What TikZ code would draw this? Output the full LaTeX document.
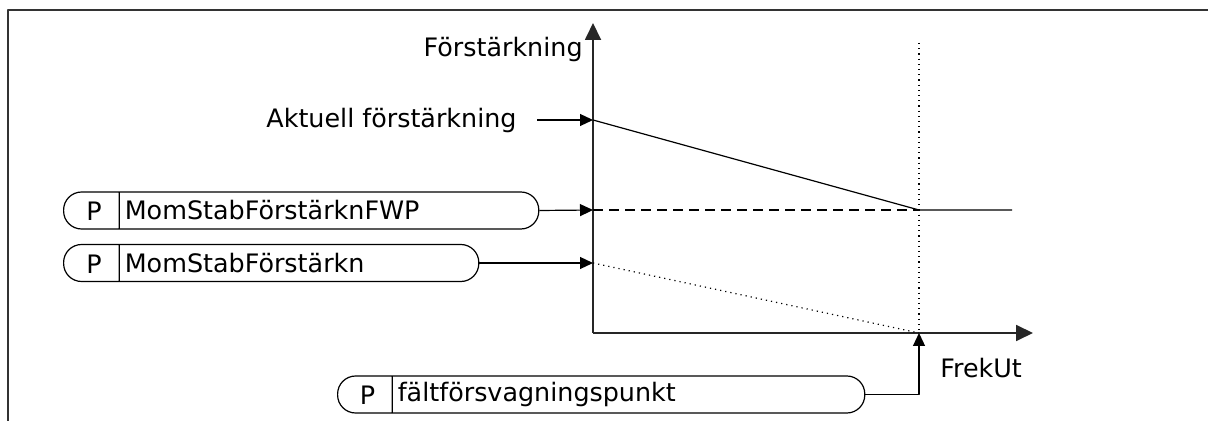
\documentclass[tikz,border=0pt]{standalone}
\usepackage{fontspec}
\setmainfont{DejaVu Sans}
\usetikzlibrary{arrows.meta,shapes.multipart}
\tikzset{
  every picture/.style={font=\fontsize{12.7}{15}\selectfont, line join=round, >=Stealth},
  frame/.style={draw=black!80, line width=1pt},
  axis/.style={draw=black!85, line width=0.9pt, -{Triangle[length=8.5pt,width=8pt]}},
  feed/.style={line width=0.6pt, -{Triangle[length=6.5pt,width=6pt]}},
  curve/.style={line width=0.6pt},
  param/.style={draw, line width=0.6pt, rectangle split, rectangle split horizontal,
    rectangle split parts=2, rounded corners=9pt, inner xsep=0pt, inner ysep=0pt},
}
\newcommand{\pcell}[1]{\makebox[#1][c]{\rule[-4pt]{0pt}{18.5pt}\hspace{3pt}P}}
\newcommand{\pname}[2]{\makebox[#1][l]{\hspace{2.5pt}#2}}

\begin{document}
\begin{tikzpicture}[x=0.5pt,y=-0.5pt]
\useasboundingbox (0,0) rectangle (1208,421);
% frame
\draw[frame] (8,421) -- (8,10) -- (1208,10);
% axes
\coordinate (O) at (593,333);
\coordinate (ytop) at (593,23);
\coordinate (xend) at (1033,333);
\draw[axis] (O) -- (ytop);
\draw[axis] (O) -- (xend);
\node[anchor=base east, inner sep=0pt] (ylab) at (583,57) {Förstärkning};
\node[anchor=base west, inner sep=0pt] (xlab) at (940,378) {FrekUt};
% points on the curves
\coordinate (gakt) at (593,120);
\coordinate (gfwp) at (593,210);
\coordinate (gmom) at (593,263);
\coordinate (knee) at (919,210);
\coordinate (kend) at (1012,210);
\coordinate (fwp0) at (919,333);
\coordinate (fwptop) at (919,43);
\draw[curve] (gakt) -- (knee) -- (kend);
\draw[curve, dash pattern=on 5pt off 3pt] (gfwp) -- (knee);
\draw[curve, dotted] (gmom) -- (fwp0);
\draw[curve, dotted] (fwptop) -- (fwp0);
% inputs
\node[anchor=base east, inner sep=0pt] (akt) at (517,128) {Aktuell förstärkning};
\draw[feed] ([xshift=10pt]akt.east |- gakt) -- (gakt);
\node[param, anchor=west] (fwp) at (63,210.5)
  {\pcell{27.5pt}\nodepart{two}\pname{209.5pt}{MomStabFörstärknFWP}};
\node[param, anchor=west] (mom) at (63,263)
  {\pcell{27.5pt}\nodepart{two}\pname{179.5pt}{MomStabFörstärkn}};
\node[param, anchor=west] (falt) at (337,394.5)
  {\pcell{27pt}\nodepart{two}\pname{236pt}{fältförsvagningspunkt}};
\draw[feed] (fwp.east) -- (gfwp);
\draw[feed] (mom.east) -- (gmom);
\draw[feed] (falt.east) -| (fwp0);
\end{tikzpicture}
\end{document}
